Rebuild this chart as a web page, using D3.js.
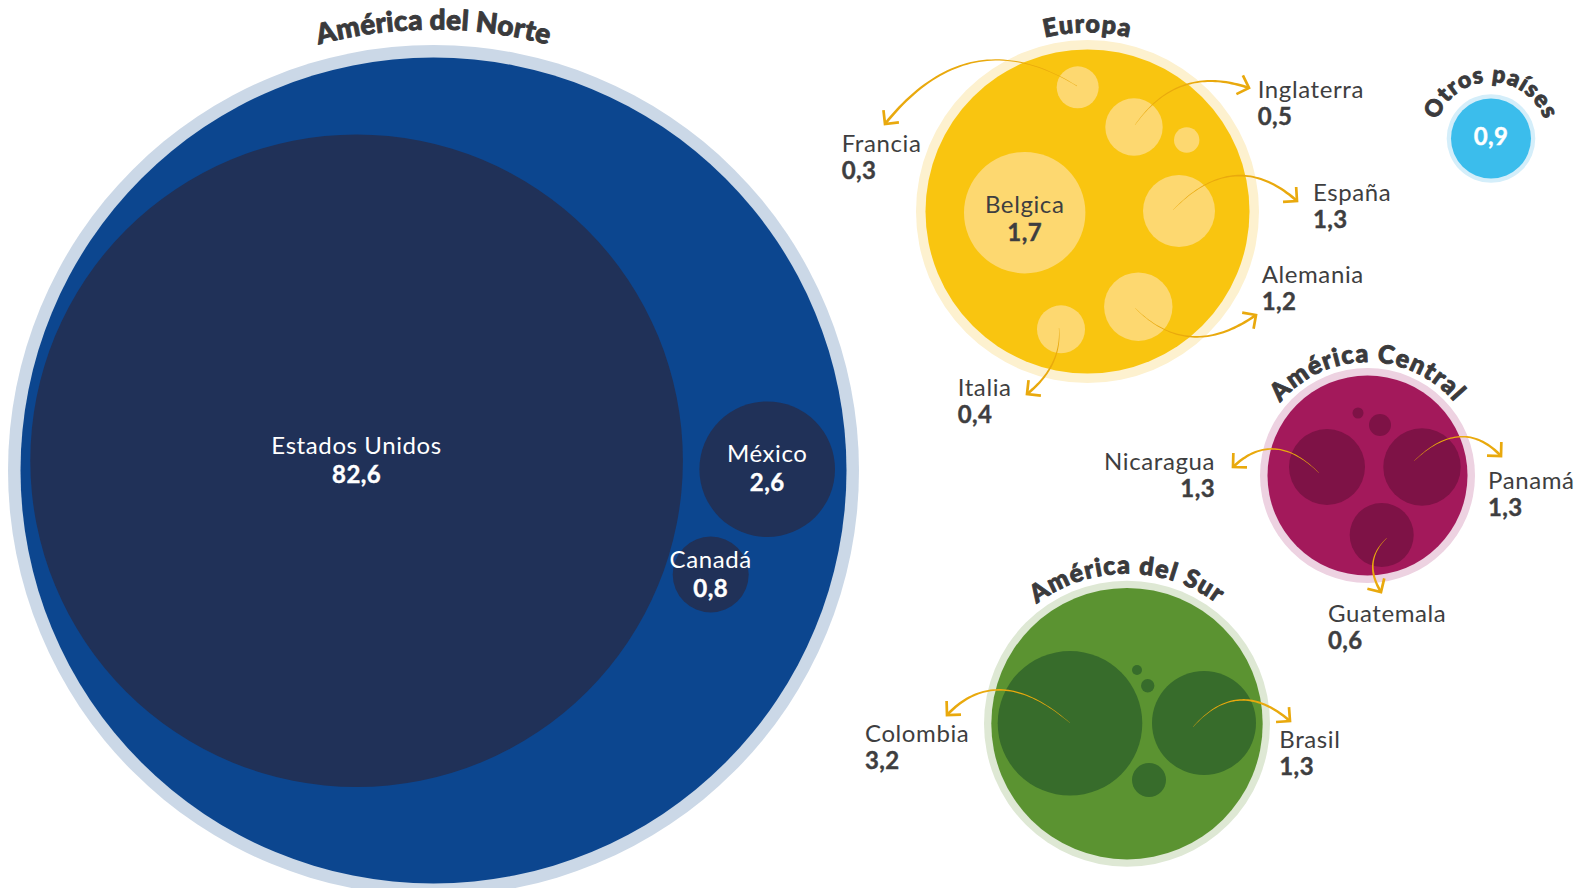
<!DOCTYPE html>
<html>
<head>
<meta charset="utf-8">
<script src="https://cdn.jsdelivr.net/npm/d3@7"></script>
<style>
  html, body { margin: 0; padding: 0; background: #ffffff; }
  svg { display: block; font-family: Lato, "Open Sans", sans-serif; }
</style>
</head>
<body>
<svg id="chart" width="1584" height="888"></svg>
<script>
// ---- Data -------------------------------------------------------------
// Regions (a region with no country breakdown carries its own total)
const regions      = ["América del Norte", "Europa", "América Central", "América del Sur", "Otros países"];
const regionTotals = [null, null, null, null, 0.9];

// Countries, the region each belongs to, and their values
const countries     = ["Estados Unidos", "México", "Canadá",
                       "Belgica", "España", "Alemania", "Inglaterra", "Italia", "Francia",
                       "Nicaragua", "Panamá", "Guatemala",
                       "Colombia", "Brasil"];
const countryRegion = [0, 0, 0,
                       1, 1, 1, 1, 1, 1,
                       2, 2, 2,
                       3, 3];
const countryValues = [82.6, 2.6, 0.8,
                       1.7, 1.3, 1.2, 0.5, 0.4, 0.3,
                       1.3, 1.3, 0.6,
                       3.2, 1.3];

// ---- Styling ----------------------------------------------------------
const ringColors   = ["#cbd8e7", "#fdf1cf", "#edd2e1", "#dee8d4", "#d4eefa"];
const fillColors   = ["#0c468f", "#f9c510", "#a3195b", "#5b9331", "#3bbdec"];
const bubbleColors = ["#203158", "#fdd870", "#7e1246", "#376c2b", null];
const inLabelColor = ["#ffffff", "#3e3e40", "#ffffff", "#ffffff", "#ffffff"];
const arrowColor = "#e9a90d";
const textDark   = "#3e3e40";
const titleColor = "#3a3a3c";

// ---- Layout -----------------------------------------------------------
// Region discs: centre, outer halo, inner disc, title baseline radius
const regionLayout = [
  { cx: 433.5,  cy: 470.5, outer: 425.5, inner: 413,   titleR: 441,  titleSize: 28, titleSpacing: 0.2, inName: -7, inValue: 22 },
  { cx: 1087.5, cy: 211.5, outer: 171.5, inner: 162,   titleR: 179,  titleSize: 25, titleSpacing: 1.2, inName: 0,  inValue: 28 },
  { cx: 1367.5, cy: 475.5, outer: 107.5, inner: 100,   titleR: 113.5,titleSize: 25, titleSpacing: 1.2 },
  { cx: 1127,   cy: 723.7, outer: 143,   inner: 135.7, titleR: 150,  titleSize: 25, titleSpacing: 1.2 },
  { cx: 1491,   cy: 138.5, outer: 44.3,  inner: 40,    titleR: 56.5, titleSize: 23, titleSpacing: 1.0 }
];

// Country bubbles, offsets from their region centre.
// Outside labels carry a label anchor and a curved pointer (start, control, tip).
const countryLayout = [
  { dx: -76.9, dy: -9.8,  r: 326.3 },
  { dx: 333.7, dy: -1.3,  r: 67.8 },
  { dx: 277.2, dy: 104,   r: 38 },
  { dx: -62.8, dy: 1.2,   r: 60.7 },
  { dx: 91.5,  dy: -0.5,  r: 36,   label: [225.5, -10.5, "start"], arrow: [[85.5, -1.5], [147.5, -65.5], [209.5, -10.5]] },
  { dx: 50.8,  dy: 95.2,  r: 34.2, label: [174.2, 71.2, "start"],  arrow: [[47.5, 96.5], [101.5, 150.5], [168.5, 103.5]] },
  { dx: 46.5,  dy: -84.5, r: 28.7, label: [170.2, -113.8, "start"],arrow: [[47.5, -86.5], [90.5, -148], [161.5, -123.5]] },
  { dx: -26.5, dy: 117.8, r: 24,   label: [-129.8, 184.2, "start"],arrow: [[-28.5, 116.5], [-25.5, 154.5], [-60.5, 182.5]] },
  { dx: -9.8,  dy: -124.2,r: 21,   label: [-245.8, -59.5, "start"],arrow: [[-10.5, -125.5], [-118.5, -192.5], [-202.5, -87.5]] },
  { dx: -40.5, dy: -8.5,  r: 38,   label: [-152.5, -5.5, "end"],   arrow: [[-48.5, -2.5], [-93.5, -47.5], [-134.5, -8.5]] },
  { dx: 54.5,  dy: -8.5,  r: 38.7, label: [120.5, 13.5, "start"],  arrow: [[46.5, -14.5], [94.5, -60.5], [133.5, -19.5]] },
  { dx: 14.2,  dy: 59.5,  r: 32,   label: [-39.5, 146.5, "start"], arrow: [[19.5, 62.5], [-5.5, 85.5], [13.5, 116.5]] },
  { dx: -57,   dy: -0.4,  r: 72.3, label: [-262, 18, "start"],     arrow: [[-57, -0.7], [-129, -62.7], [-180, -8.7]] },
  { dx: 77,    dy: -0.7,  r: 52,   label: [152.3, 24.6, "start"],  arrow: [[66, 3.3], [111, -47.7], [163, -2.7]] }
];

// Small unlabelled bubbles inside each region
const minorBubbles = [
  { region: 1, dx: 99.2, dy: -71.5, r: 12.7 },
  { region: 2, dx: 12.5, dy: -50.5, r: 11 },
  { region: 2, dx: -9.5, dy: -62.5, r: 5.5 },
  { region: 3, dx: 22,   dy: 56.3,  r: 17 },
  { region: 3, dx: 20.7, dy: -38,   r: 6.7 },
  { region: 3, dx: 10,   dy: -53.7, r: 5 }
];

// ---- Drawing ----------------------------------------------------------
const fmt = d3.formatLocale({ decimal: ",", thousands: ".", grouping: [3], currency: ["", ""] }).format(".1f");
const svg = d3.select("#chart");
const defs = svg.append("defs");

// Positions inside a region go through a per-region linear scale
const xs = regionLayout.map(g => d3.scaleLinear().domain([0, 1]).range([g.cx, g.cx + 1]));
const ys = regionLayout.map(g => d3.scaleLinear().domain([0, 1]).range([g.cy, g.cy + 1]));

const regionData = regions.map((name, i) => ({ name, i, total: regionTotals[i], ...regionLayout[i] }));
const countryData = countries.map((name, i) => ({
  name, value: countryValues[i], g: countryRegion[i], ...countryLayout[i]
}));

// Region halos and discs
const gReg = svg.append("g");
gReg.selectAll("circle.halo").data(regionData).join("circle")
  .attr("class", "halo")
  .attr("cx", d => d.cx).attr("cy", d => d.cy).attr("r", d => d.outer)
  .attr("fill", d => ringColors[d.i]);
gReg.selectAll("circle.disc").data(regionData).join("circle")
  .attr("class", "disc")
  .attr("cx", d => d.cx).attr("cy", d => d.cy).attr("r", d => d.inner)
  .attr("fill", d => fillColors[d.i]);

// Minor bubbles
svg.append("g").selectAll("circle").data(minorBubbles).join("circle")
  .attr("cx", d => xs[d.region](d.dx)).attr("cy", d => ys[d.region](d.dy)).attr("r", d => d.r)
  .attr("fill", d => bubbleColors[d.region]);

// Country bubbles
svg.append("g").selectAll("circle").data(countryData).join("circle")
  .attr("cx", d => xs[d.g](d.dx)).attr("cy", d => ys[d.g](d.dy)).attr("r", d => d.r)
  .attr("fill", d => bubbleColors[d.g]);

// Curved pointers: tapered quadratic stroke plus an open chevron at the tip
function qPoint(p0, c, p2, t) {
  const u = 1 - t;
  return [u * u * p0[0] + 2 * u * t * c[0] + t * t * p2[0], u * u * p0[1] + 2 * u * t * c[1] + t * t * p2[1]];
}
function qTangent(p0, c, p2, t) {
  const u = 1 - t;
  return [2 * u * (c[0] - p0[0]) + 2 * t * (p2[0] - c[0]), 2 * u * (c[1] - p0[1]) + 2 * t * (p2[1] - c[1])];
}
function taper(p0, c, p2, w0, w1) {
  const n = 48, left = [], right = [];
  for (let k = 0; k <= n; k++) {
    const t = k / n, p = qPoint(p0, c, p2, t), d = qTangent(p0, c, p2, t);
    const len = Math.hypot(d[0], d[1]) || 1;
    const nx = -d[1] / len, ny = d[0] / len, w = (w0 + (w1 - w0) * t) / 2;
    left.push([p[0] + nx * w, p[1] + ny * w]);
    right.push([p[0] - nx * w, p[1] - ny * w]);
  }
  return d3.line()(left.concat(right.reverse())) + "Z";
}
function chevron(p0, c, p2, size) {
  const d = qTangent(p0, c, p2, 1), len = Math.hypot(d[0], d[1]);
  const bx = -d[0] / len, by = -d[1] / len, a = Math.PI / 4;
  const rot = s => [p2[0] + size * (bx * Math.cos(s) - by * Math.sin(s)), p2[1] + size * (bx * Math.sin(s) + by * Math.cos(s))];
  return d3.line()([rot(a), p2, rot(-a)]);
}

const pointed = countryData.filter(d => d.arrow);
const gArrow = svg.append("g");
pointed.forEach(d => {
  const pts = d.arrow.map(p => [xs[d.g](p[0]), ys[d.g](p[1])]);
  gArrow.append("path").attr("d", taper(pts[0], pts[1], pts[2], 0.3, 2.7)).attr("fill", arrowColor);
  gArrow.append("path").attr("d", chevron(pts[0], pts[1], pts[2], 14))
    .attr("fill", "none").attr("stroke", arrowColor).attr("stroke-width", 2.7)
    .attr("stroke-linejoin", "miter").attr("stroke-linecap", "butt");
});

// Labels
const gLab = svg.append("g");
countryData.forEach(d => {
  const reg = regionLayout[d.g];
  let x, y, anchor, color;
  if (d.label) {
    x = xs[d.g](d.label[0]); y = ys[d.g](d.label[1]); anchor = d.label[2]; color = textDark;
  } else {
    x = xs[d.g](d.dx); y = ys[d.g](d.dy) + reg.inName; anchor = "middle"; color = inLabelColor[d.g];
  }
  const valueDy = d.label ? 27 : reg.inValue - reg.inName;
  gLab.append("text").attr("x", x).attr("y", y).attr("text-anchor", anchor)
    .attr("fill", color).attr("font-size", 24).attr("letter-spacing", 0.6)
    .text(d.name);
  gLab.append("text").attr("x", x).attr("y", y + valueDy).attr("text-anchor", anchor)
    .attr("fill", color).attr("font-size", 24).attr("font-weight", 700).attr("letter-spacing", 0.4)
    .attr("stroke", color).attr("stroke-width", 0.4)
    .text(fmt(d.value));
});

// Region total shown inside a disc without country breakdown
regionData.filter(d => d.total != null).forEach(d => {
  gLab.append("text").attr("x", d.cx).attr("y", d.cy + 6).attr("text-anchor", "middle")
    .attr("fill", "#ffffff").attr("font-size", 24).attr("font-weight", 700).attr("letter-spacing", 0.4)
    .attr("stroke", "#ffffff").attr("stroke-width", 0.4)
    .text(fmt(d.total));
});

// Region titles curved over each disc
regionData.forEach(d => {
  const R = d.titleR, id = "arc-" + d.i;
  defs.append("path").attr("id", id)
    .attr("d", `M${d.cx},${d.cy + R} A${R},${R} 0 1 1 ${d.cx},${d.cy - R} A${R},${R} 0 1 1 ${d.cx},${d.cy + R}`);
  svg.append("text")
    .attr("font-size", d.titleSize).attr("font-weight", 900).attr("fill", titleColor)
    .attr("stroke", titleColor).attr("stroke-width", 0.9).attr("stroke-linejoin", "round")
    .attr("letter-spacing", d.titleSpacing)
    .append("textPath").attr("href", "#" + id).attr("startOffset", "50%").attr("text-anchor", "middle")
    .text(d.name);
});
</script>
</body>
</html>
